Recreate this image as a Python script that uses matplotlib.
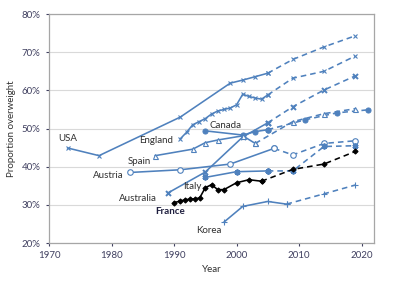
import matplotlib
matplotlib.use("Agg")
import matplotlib.pyplot as plt

plt.rcParams['font.family'] = ['Lato', 'DejaVu Sans']

BLUE = '#4F81BD'

# solid = measured, dashed = projected
usa_years = [1973, 1978, 1991, 1999, 2001, 2003, 2005]
usa_vals = [44.9, 42.9, 53.0, 61.9, 62.7, 63.6, 64.5]
usa_proj_years = [2005, 2009, 2014, 2019]
usa_proj_vals = [64.5, 68.1, 71.4, 74.3]

england_years = [1991, 1992, 1993, 1994, 1995, 1996, 1997, 1998, 1999, 2000,
                 2001, 2002, 2003, 2004, 2005]
england_vals = [47.3, 49.0, 51.0, 51.8, 52.6, 53.8, 54.6, 55.0, 55.4, 56.2,
                59.0, 58.4, 58.0, 57.7, 58.8]
england_proj_years = [2005, 2009, 2014, 2019]
england_proj_vals = [58.8, 63.2, 65.0, 69.0]

australia_years = [1989, 1995, 2001, 2005]
australia_vals = [33.1, 38.6, 47.8, 51.5]
australia_proj_years = [2005, 2009, 2014, 2019]
australia_proj_vals = [51.5, 55.7, 60.1, 63.8]

canada_years = [1995, 2001, 2003, 2005]
canada_vals = [49.4, 48.3, 49.2, 49.7]
canada_proj_years = [2005, 2011, 2016, 2021]
canada_proj_vals = [49.7, 52.3, 54.1, 54.9]

spain_years = [1987, 1993, 1995, 1997, 2001, 2003]
spain_vals = [42.9, 44.6, 46.3, 47.0, 48.1, 46.1]
spain_proj_years = [2003, 2009, 2014, 2019]
spain_proj_vals = [46.1, 51.8, 53.9, 55.2]

austria_years = [1983, 1991, 1999, 2006]
austria_vals = [38.5, 39.2, 40.7, 44.8]
austria_proj_years = [2006, 2009, 2014, 2019]
austria_proj_vals = [44.8, 43.1, 46.1, 46.8]

italy_years = [1995, 2000, 2005]
italy_vals = [37.2, 38.7, 38.9]
italy_proj_years = [2005, 2009, 2014, 2019]
italy_proj_vals = [38.9, 38.9, 45.3, 45.5]

korea_years = [1998, 2001, 2005, 2008]
korea_vals = [25.5, 29.6, 30.9, 30.2]
korea_proj_years = [2008, 2014, 2019]
korea_proj_vals = [30.2, 32.9, 35.2]

france_years = [1990, 1991, 1991.7, 1992.5, 1993.3, 1994.1, 1995, 1996, 1997,
                1998, 2000, 2002, 2004]
france_vals = [30.6, 31.0, 31.3, 31.5, 31.6, 31.8, 34.5, 35.3, 34.0,
               34.0, 35.8, 36.6, 36.2]
france_proj_years = [2004, 2009, 2014, 2019]
france_proj_vals = [36.2, 39.3, 40.7, 44.0]

# country labels (text, x, y, bold)
labels = [("USA", 1973, 47.3, False), ("England", 1987.2, 46.8, False),
          ("Canada", 1998.2, 50.7, False), ("Spain", 1984.5, 41.5, False),
          ("Austria", 1979.5, 37.7, False), ("Italy", 1993, 34.7, False),
          ("Australia", 1984.2, 31.6, False), ("France", 1989.3, 28.4, True),
          ("Korea", 1995.5, 23.2, False)]

fig = plt.figure(figsize=(4.0, 2.81), dpi=100)
ax = fig.add_axes([0.1225, 0.135, 0.8125, 0.815])

series = [
    (usa_years, usa_vals, usa_proj_years, usa_proj_vals, BLUE, 'x', 3.2, 'full'),
    (england_years, england_vals, england_proj_years, england_proj_vals, BLUE, 'x', 2.8, 'full'),
    (australia_years, australia_vals, australia_proj_years, australia_proj_vals, BLUE, 'x', 3.6, 'bold'),
    (canada_years, canada_vals, canada_proj_years, canada_proj_vals, BLUE, 'o', 3.6, 'full'),
    (spain_years, spain_vals, spain_proj_years, spain_proj_vals, BLUE, '^', 3.6, 'open'),
    (austria_years, austria_vals, austria_proj_years, austria_proj_vals, BLUE, 'o', 4, 'open'),
    (italy_years, italy_vals, italy_proj_years, italy_proj_vals, BLUE, (6, 2, 0), 4.2, 'bold'),
    (korea_years, korea_vals, korea_proj_years, korea_proj_vals, BLUE, '+', 4.5, 'full'),
    (france_years, france_vals, france_proj_years, france_proj_vals, 'black', 'D', 2.6, 'full'),
]

for yrs, vals, pyrs, pvals, col, mk, ms, style in series:
    mew = 1.4 if style == 'bold' else 0.8
    mfc = 'white' if style == 'open' else col
    ax.plot(pyrs, pvals, color=col, lw=1.15, ls=(0, (3.5, 2.5)), marker=mk,
            ms=ms, mfc=mfc, mec=col, mew=mew, zorder=2)
    ax.plot(yrs, vals, color=col, lw=1.15, marker=mk, ms=ms, mfc=mfc,
            mec=col, mew=mew, zorder=3)

for txt, x, y, bold in labels:
    ax.text(x, y, txt, fontsize=7, ha='center', va='center',
            color='#1F1F3F' if bold else '#303030',
            fontweight='bold' if bold else 'normal', zorder=4)

ax.set_xlim(1970, 2022)
ax.set_ylim(20, 80)
ax.set_xticks([1970, 1980, 1990, 2000, 2010, 2020])
ax.set_yticks([20, 30, 40, 50, 60, 70, 80])
ax.set_yticklabels([f"{v}%" for v in [20, 30, 40, 50, 60, 70, 80]])
ax.tick_params(labelsize=7, colors='#404060', length=2.5, width=0.8)
ax.grid(axis='y', color='#D9D9D9', lw=0.8)
ax.set_axisbelow(True)
for s in ax.spines.values():
    s.set_color('#A6A6A6')
    s.set_linewidth(0.9)
ax.set_xlabel('Year', fontsize=7, color='#303030', labelpad=3)
ax.set_ylabel('Proportion overweight', fontsize=7, color='#303030', labelpad=4)

fig.savefig('out.png', dpi=100)
